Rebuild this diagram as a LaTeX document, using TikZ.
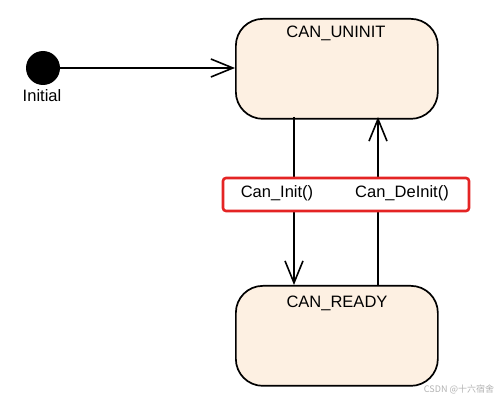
\documentclass[tikz,border=0pt]{standalone}
\usepackage{fontspec}
\setmainfont{Liberation Sans}
\newfontfamily\cjk{Noto Sans CJK SC}
\usetikzlibrary{arrows.meta}
\definecolor{statefill}{RGB}{253,240,226}
\definecolor{hlred}{RGB}{228,36,36}
\tikzset{
  statebox/.style={draw=black,line width=1.7pt,fill=statefill,rounded corners=27pt,minimum width=202pt,minimum height=100pt,anchor=north west},
  lbl/.style={font=\fontsize{16.5}{18}\selectfont,inner sep=0pt},
  trans/.style={line width=1.8pt,-{Straight Barb[length=22pt,width=18pt,line width=1.6pt]}}
}
\begin{document}
\begin{tikzpicture}[x=1pt,y=-1pt]
\useasboundingbox (0,0) rectangle (499,401);
\node[statebox] (uninit) at (235,18) {};
\node[statebox] (ready) at (235,285) {};
\node[lbl] (tU) at (336,33) {CAN\_UNINIT};
\node[lbl] (tR) at (337,303) {CAN\_READY};
\node[circle,fill=black,minimum size=34pt,inner sep=0pt] (init) at (43,68) {};
\node[lbl] (tI) at (42,96) {Initial};
\draw[trans] (init.east) -- (uninit.west|-init.east);
\coordinate (a1) at (294,117);
\coordinate (a2) at (294,285);
\coordinate (b1) at (378,285);
\coordinate (b2) at (378,117);
\draw[trans] (a1) -- (a2);
\draw[trans] (b1) -- (b2);
\node[draw=hlred,fill=white,line width=2.6pt,rounded corners=3pt,minimum width=246pt,minimum height=33pt] (hl) at (346,194.5) {};
\node[lbl] (l1) at (277,193) {Can\_Init()};
\node[lbl] (l2) at (402,193) {Can\_DeInit()};
\node[inner sep=0pt,text=black!30,font=\cjk\fontsize{9}{10}\selectfont] (wm) at (459,389) {CSDN @十六宿舍};
\end{tikzpicture}
\end{document}
